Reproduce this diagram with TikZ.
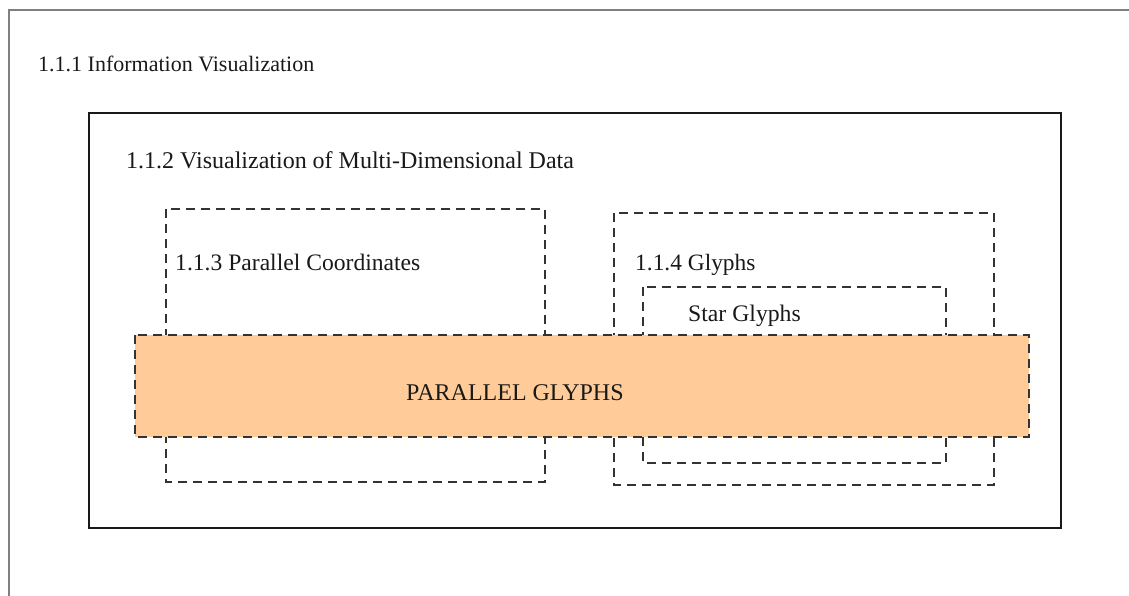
\documentclass[tikz,border=0pt]{standalone}
\usepackage{fontspec}
\setmainfont{Liberation Serif}
\definecolor{orangefill}{HTML}{FFCC99}
\definecolor{dashcol}{HTML}{333333}
\definecolor{framegray}{HTML}{808080}
\tikzset{
  lbl/.style={anchor=base west, inner sep=0pt, font=\fontsize{24}{28}\selectfont, text=black!90},
  dbox/.style={draw=dashcol, line width=1.3pt, dash pattern=on 9pt off 6pt},
  sbox/.style={draw=black!90, line width=1.3pt},
}
\begin{document}
\begin{tikzpicture}[x=1pt,y=-1pt]
\useasboundingbox (0,0) rectangle (1129,596);
% outer frame (only top and left visible)
\draw[framegray, line width=2pt] (9,596) -- (9,10) -- (1129,10);
% inner solid box
\draw[sbox] (89,113) rectangle (1061,528);
% dashed boxes
\draw[dbox] (166,209) rectangle (545,482);
\draw[dbox] (614,213) rectangle (994,485);
\draw[dbox] (643,287) rectangle (946,463);
% parallel glyphs box
\draw[dbox, fill=orangefill] (135,335) rectangle (1029,437);
% labels
\node[lbl, font=\fontsize{22}{26}\selectfont] (t1) at (38,72) {1.1.1 Information Visualization};
\node[lbl] (t2) at (126,169) {1.1.2 Visualization of Multi-Dimensional Data};
\node[lbl, font=\fontsize{23.6}{28}\selectfont] (t3) at (175,270) {1.1.3 Parallel Coordinates};
\node[lbl, font=\fontsize{23.4}{28}\selectfont] (t4) at (635,270) {1.1.4 Glyphs};
\node[lbl, font=\fontsize{23.7}{28}\selectfont] (t5) at (688,321) {Star Glyphs};
\node[lbl] (t6) at (406,400) {PARALLEL GLYPHS};
\end{tikzpicture}
\end{document}
